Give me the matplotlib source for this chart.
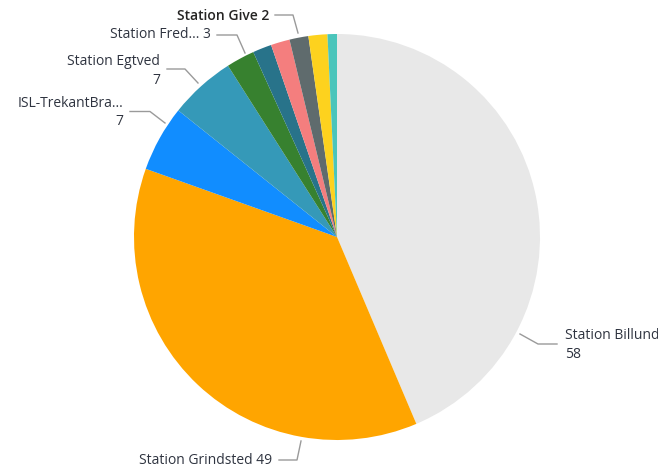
import matplotlib.pyplot as plt

# Antal pr. station, med uret fra kl. 12
stationer = ['Station Billund', 'Station Grindsted', 'ISL-TrekantBra...', 'Station Egtved',
             'Station Fred...', 'Station 6', 'Station 7', 'Station Give', 'Station 9', 'Station 10']
antal = [58, 49, 7, 7, 3, 2, 2, 2, 2, 1]
farver = ['#E8E8E8', '#FFA500', '#118DFF', '#3599B8', '#37812F',
          '#28738A', '#F47E7E', '#5F6B6D', '#FDD21E', '#4AC5BB']

fig = plt.figure(figsize=(6.58, 4.70), dpi=100)
ax = fig.add_axes([0, 0, 1, 1])

# y-aksen vendes om, så startvinkel 270 = kl. 12 og "mod uret" bliver med uret på skærmen
ax.pie(antal, colors=farver, center=(337, 237), radius=203,
       startangle=270, counterclock=True,
       wedgeprops=dict(linewidth=0))
ax.set_xlim(0, 658)
ax.set_ylim(470, 0)
ax.set_aspect('equal')
ax.axis('off')

plt.rcParams['font.family'] = ['Open Sans', 'DejaVu Sans']
tekst_farve = '#2F3440'
linje_farve = '#9A9A9A'

# Etiketter: (indeks, tekst, x, y, justering, vægt, ledelinje)
etiketter = [
    (0, '{navn}\n{v}', 565, 345, 'left', 'normal', [(520, 334), (538, 344), (557, 344)]),
    (1, '{navn} {v}', 272, 461, 'right', 'normal', [(279, 460), (297, 460), (301, 441)]),
    (2, '{navn}\n{v}', 123, 112.5, 'right', 'normal', [(130, 111.5), (150, 111.5), (165, 123)]),
    (3, '{navn}\n{v}', 160, 71, 'right', 'normal', [(167, 69), (185, 69), (198, 83)]),
    (4, '{navn} {v}', 211, 35, 'right', 'normal', [(217, 35), (237, 35), (245, 53)]),
    (7, '{navn} {v}', 269, 16, 'right', 'semibold', [(275, 15), (293, 15), (298, 33)]),
]

for i, fmt, x, y, ha, vaegt, linje in etiketter:
    ax.text(x, y, fmt.format(navn=stationer[i], v=antal[i]), ha=ha, va='center',
            fontsize=10, fontweight=vaegt,
            color='#252423' if vaegt != 'normal' else tekst_farve,
            linespacing=1.3, multialignment=ha)
    xs, ys = zip(*linje)
    ax.plot(xs, ys, color=linje_farve, linewidth=1)

plt.savefig('out.png', dpi=100)
plt.close()
